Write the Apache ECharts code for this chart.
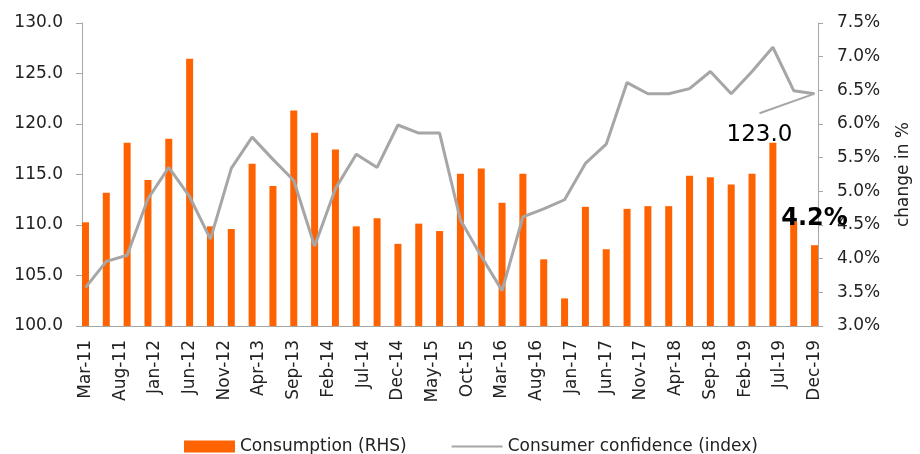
<!DOCTYPE html>
<html>
<head>
<meta charset="utf-8">
<script src="https://cdn.jsdelivr.net/npm/echarts@6/dist/echarts.min.js"></script>
<style>
  html, body { margin: 0; padding: 0; background: #fff; }
  #chart { width: 920px; height: 454px; }
</style>
</head>
<body>
<div id="chart"></div>
<script>
// quarterly observations
const quarters = [
  'Mar-11', 'Jun-11', 'Sep-11', 'Dec-11', 'Mar-12', 'Jun-12', 'Sep-12', 'Dec-12',
  'Mar-13', 'Jun-13', 'Sep-13', 'Dec-13', 'Mar-14', 'Jun-14', 'Sep-14', 'Dec-14',
  'Mar-15', 'Jun-15', 'Sep-15', 'Dec-15', 'Mar-16', 'Jun-16', 'Sep-16', 'Dec-16',
  'Mar-17', 'Jun-17', 'Sep-17', 'Dec-17', 'Mar-18', 'Jun-18', 'Sep-18', 'Dec-18',
  'Mar-19', 'Jun-19', 'Sep-19', 'Dec-19'
];

// Consumption, change in % (right axis)
const consumption = [
  4.54, 4.98, 5.72, 5.17, 5.78, 6.97, 4.48, 4.44,
  5.41, 5.08, 6.20, 5.87, 5.62, 4.48, 4.60, 4.22,
  4.52, 4.41, 5.26, 5.34, 4.83, 5.26, 3.99, 3.41,
  4.77, 4.14, 4.74, 4.78, 4.78, 5.23, 5.21, 5.10,
  5.26, 5.72, 4.55, 4.20
];

// Consumer confidence index (left axis)
const confidence = [
  103.8, 106.4, 107.0, 112.6, 115.7, 112.8, 108.6, 115.6,
  118.7, 116.5, 114.4, 107.9, 113.6, 117.0, 115.7, 119.9,
  119.1, 119.1, 110.5, 106.9, 103.5, 110.8, 111.6, 112.5,
  116.1, 118.0, 124.1, 123.0, 123.0, 123.5, 125.2, 123.0,
  125.2, 127.6, 123.3, 123.0
];

const leftTicks = { min: 100, max: 130, interval: 5 };
const rightTicks = { min: 3, max: 7.5, interval: 0.5 };

// monthly category axis, Mar-11 .. Dec-19 (labels every 5 months)
const monthNames = ['Jan', 'Feb', 'Mar', 'Apr', 'May', 'Jun', 'Jul', 'Aug', 'Sep', 'Oct', 'Nov', 'Dec'];
const months = [];
for (let y = 2011; y <= 2019; y++) {
  for (let m = 0; m < 12; m++) {
    if (y === 2011 && m < 2) continue;
    months.push(monthNames[m] + '-' + String(y).slice(2));
  }
}

const FONT = "'DejaVu Sans', sans-serif";
const TEXT = '#222';
const AXIS = '#A6A6A6';
const last = quarters.length - 1;

const chart = echarts.init(document.getElementById('chart'), null, { renderer: 'canvas' });

chart.setOption({
  animation: false,
  textStyle: { fontFamily: FONT },
  grid: { left: 82, right: 102, top: 23, bottom: 128, containLabel: false, outerBoundsMode: 'none' },
  legend: {
    top: 438,
    left: 184,
    padding: 0,
    itemWidth: 51,
    itemHeight: 12,
    itemGap: 44,
    textStyle: { fontFamily: FONT, fontSize: 17, color: TEXT },
    data: [
      { name: 'Consumption (RHS)', icon: 'rect' },
      { name: 'Consumer confidence (index)', itemStyle: { opacity: 0 } }
    ]
  },
  xAxis: {
    type: 'category',
    data: months,
    boundaryGap: true,
    axisLine: { lineStyle: { color: AXIS, width: 1 } },
    axisTick: { interval: 4, length: 6, lineStyle: { color: AXIS } },
    axisLabel: {
      interval: 4,
      rotate: 90,
      margin: 14,
      fontSize: 17,
      color: TEXT,
      fontFamily: FONT
    }
  },
  yAxis: [
    {
      type: 'value',
      ...leftTicks,
      axisLine: { show: true, lineStyle: { color: AXIS } },
      axisTick: { show: true, length: 6, lineStyle: { color: AXIS } },
      splitLine: { show: false },
      axisLabel: {
        margin: 19,
        fontSize: 17,
        color: TEXT,
        formatter: (v) => v.toFixed(1)
      }
    },
    {
      type: 'value',
      position: 'right',
      ...rightTicks,
      name: 'change in %',
      nameLocation: 'middle',
      nameRotate: 90,
      nameGap: 77,
      nameTextStyle: { fontSize: 17, color: TEXT, fontFamily: FONT },
      axisLine: { show: true, lineStyle: { color: AXIS } },
      axisTick: { show: true, length: 5, lineStyle: { color: AXIS } },
      splitLine: { show: false },
      axisLabel: {
        margin: 19,
        fontSize: 17,
        color: TEXT,
        formatter: (v) => v.toFixed(1) + '%'
      }
    }
  ],
  series: [
    {
      name: 'Consumption (RHS)',
      type: 'bar',
      yAxisIndex: 1,
      barWidth: 7,
      itemStyle: { color: '#FF6200' },
      data: quarters.map((q, i) => {
        const item = { value: [q, consumption[i]] };
        if (i === last) {
          item.label = {
            show: true,
            position: 'top',
            distance: 14,
            formatter: (p) => p.value[1].toFixed(1) + '%',
            fontSize: 24,
            fontWeight: 'bold',
            color: '#000',
            fontFamily: FONT
          };
        }
        return item;
      })
    },
    {
      name: 'Consumer confidence (index)',
      type: 'line',
      yAxisIndex: 0,
      symbol: 'none',
      lineStyle: { color: AXIS, width: 3 },
      itemStyle: { color: AXIS },
      labelLine: { show: true, lineStyle: { color: AXIS, width: 2 } },
      labelLayout: (params) => params.dataIndex === last ? { dx: -55, dy: 14 } : {},
      data: confidence.map((v, i) => {
        const item = { value: [quarters[i], v] };
        if (i === last) {
          item.symbol = 'circle';
          item.symbolSize = 1;
          // wide transparent box so the leader line meets the top of the label
          item.label = {
            show: true,
            position: 'bottom',
            padding: [10, 80, 0, 80],
            backgroundColor: 'rgba(255,255,255,0)',
            formatter: (p) => p.value[1].toFixed(1),
            fontSize: 23,
            color: '#000',
            fontFamily: FONT
          };
        }
        return item;
      })
    }
  ]
});
</script>
</body>
</html>
